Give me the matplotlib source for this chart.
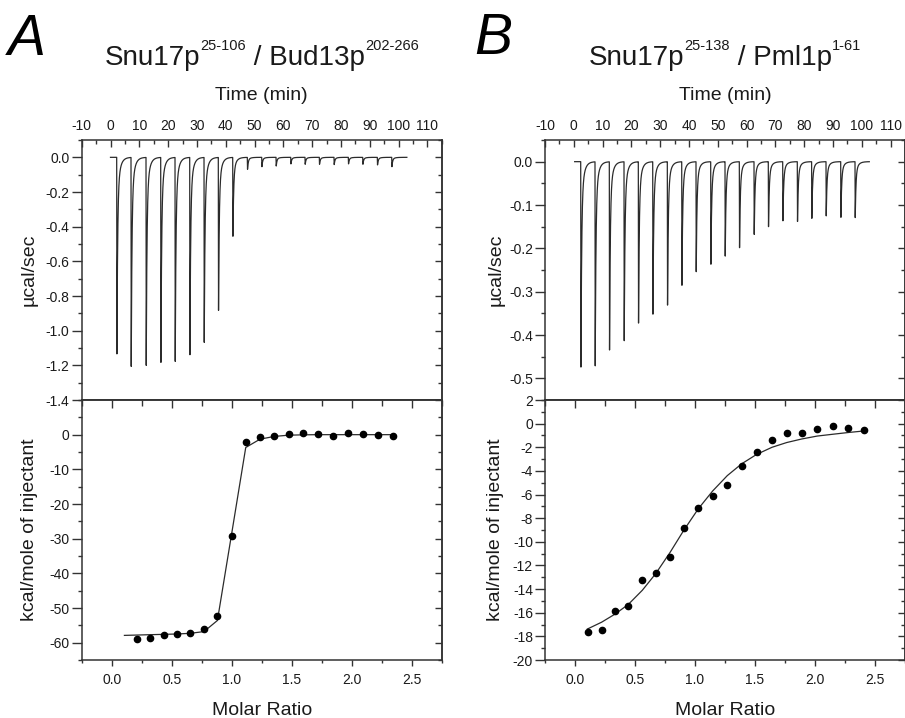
import matplotlib
matplotlib.use('Agg')
import matplotlib.pyplot as plt
import numpy as np
from matplotlib.ticker import MultipleLocator, FixedLocator, FuncFormatter

plt.rcParams['font.family'] = ['Liberation Sans', 'DejaVu Sans']
plt.rcParams['axes.unicode_minus'] = False

# ---------------- data ----------------
# Panel A: Snu17p(25-106) / Bud13p(202-266)
a_inj_time = [2.15, 7.12, 12.33, 17.43, 22.40, 27.50, 32.47, 37.43, 42.43, 47.50,
              52.50, 57.47, 62.57, 67.53, 72.50, 77.60, 82.57, 87.57, 92.64, 97.64]
a_peak_depth = [-1.14, -1.208, -1.20, -1.185, -1.18, -1.144, -1.073, -0.887, -0.458, -0.069,
                -0.054, -0.050, -0.038, -0.040, -0.040, -0.042, -0.038, -0.040, -0.044, -0.054]
a_ratio = [0.214, 0.319, 0.433, 0.542, 0.656, 0.769, 0.881, 1.000, 1.117, 1.236,
           1.356, 1.475, 1.597, 1.717, 1.842, 1.967, 2.092, 2.222, 2.347]
a_heat = [-59.0, -58.6, -57.9, -57.5, -57.3, -56.2, -52.2, -29.1, -2.0, -0.8,
          -0.3, 0.1, 0.4, 0.2, -0.5, 0.5, 0.1, 0.0, -0.5]
a_fit_ratio = [0.106, 0.214, 0.319, 0.433, 0.542, 0.656, 0.769, 0.881, 1.000, 1.117, 1.236,
               1.356, 1.475, 1.597, 1.717, 1.842, 1.967, 2.092, 2.222, 2.347]
a_fit_heat = [-57.9, -57.8, -57.7, -57.6, -57.5, -57.3, -56.8, -53.6, -28.5, -3.7, -1.3,
              -0.5, -0.15, -0.05, 0.0, 0.0, 0.0, 0.0, 0.0, 0.0]

# Panel B: Snu17p(25-138) / Pml1p(1-61)
b_inj_time = [2.40, 7.36, 12.33, 17.43, 22.40, 27.40, 32.47, 37.47, 42.43, 47.53,
              52.50, 57.47, 62.57, 67.53, 72.53, 77.60, 82.57, 87.57, 92.67, 97.64]
b_peak_depth = [-0.478, -0.472, -0.438, -0.414, -0.375, -0.354, -0.333, -0.287, -0.254, -0.238,
                -0.218, -0.200, -0.168, -0.151, -0.137, -0.139, -0.131, -0.125, -0.129, -0.129]
b_ratio = [0.111, 0.222, 0.336, 0.444, 0.561, 0.672, 0.792, 0.908, 1.028, 1.147,
           1.269, 1.389, 1.514, 1.642, 1.764, 1.889, 2.019, 2.147, 2.278, 2.408]
b_heat = [-17.66, -17.46, -15.83, -15.41, -13.27, -12.68, -11.30, -8.82, -7.10, -6.11,
          -5.18, -3.61, -2.42, -1.41, -0.79, -0.79, -0.48, -0.20, -0.37, -0.51]
b_fit_ratio = [0.103, 0.222, 0.336, 0.444, 0.561, 0.672, 0.792, 0.908, 1.028, 1.147,
               1.269, 1.389, 1.514, 1.642, 1.764, 1.889, 2.019, 2.147, 2.278, 2.408]
b_fit_heat = [-17.38, -16.8, -16.1, -15.3, -14.1, -12.7, -10.9, -9.0, -7.2, -5.7,
              -4.4, -3.4, -2.6, -2.0, -1.6, -1.3, -1.05, -0.9, -0.75, -0.62]

run_start = [0.0, 0.3]
run_end = [102.9, 102.6]

titles = [[("Snu17p", 20, 0), ("25-106", 10.5, 15), (" / Bud13p", 20, 0), ("202-266", 10.5, 15)],
          [("Snu17p", 20, 0), ("25-138", 10.5, 15), (" / Pml1p", 20, 0), ("1-61", 10.5, 15)]]
panel_letters = ["A", "B"]

# ---------------- style ----------------
W, H = 905, 718
TXT = '#1a1a1a'
AXC = '#333333'
LINE = '#2b2b2b'

fig = plt.figure(figsize=(W / 100, H / 100), dpi=100)


def rect(x0, y0, x1, y1):
    return [x0 / W, 1 - y1 / H, (x1 - x0) / W, (y1 - y0) / H]


def thermogram(times, depths, t0, t1):
    t = np.linspace(t0, t1, 30000)
    y = np.zeros_like(t)
    rise = 0.08
    for ti, d in zip(times, depths):
        s = t - ti
        m1 = (s >= 0) & (s < rise)
        y[m1] += d * s[m1] / rise
        m2 = s >= rise
        s2 = s[m2] - rise
        y[m2] += d * (0.8 * np.exp(-s2 / 0.25) + 0.2 * np.exp(-s2 / 0.9))
    return t, y


def fmt1(v, pos):
    return "0.0" if abs(v) < 1e-9 else f"{v:.1f}"


def fmt0(v, pos):
    return "0" if abs(v) < 1e-9 else f"{v:.0f}"


def style_axes(ax):
    for sp in ax.spines.values():
        sp.set_color(AXC)
        sp.set_linewidth(1.1)


def add_right_ticks(ax, major, minor):
    sec = ax.secondary_yaxis('right')
    sec.yaxis.set_major_locator(MultipleLocator(major))
    sec.yaxis.set_minor_locator(MultipleLocator(minor))
    sec.tick_params(axis='y', which='major', direction='in', length=5, width=1.0,
                    color=AXC, labelright=False)
    sec.tick_params(axis='y', which='minor', direction='in', length=3, width=1.0, color=AXC)
    sec.spines['right'].set_color(AXC)
    sec.spines['right'].set_linewidth(1.1)
    return sec


panels = [
    dict(x0=81.7, x1=441.7, times=a_inj_time, depths=a_peak_depth,
         ratio=a_ratio, heat=a_heat, fr=a_fit_ratio, fh=a_fit_heat,
         uy=(-1.4, 0.1), umaj=0.2, umin=0.1,
         ly=(-65, 10), lmajticks=list(range(-60, 1, 10)), lmin=5, lfmt=fmt0,
         ylab_x=29),
    dict(x0=545, x1=905, times=b_inj_time, depths=b_peak_depth,
         ratio=b_ratio, heat=b_heat, fr=b_fit_ratio, fh=b_fit_heat,
         uy=(-0.55, 0.05), umaj=0.1, umin=0.05,
         ly=(-20, 2), lmajticks=list(range(-20, 3, 2)), lmin=1, lfmt=fmt0,
         ylab_x=496),
]

for i, p in enumerate(panels):
    # ---------- upper: thermogram ----------
    axu = fig.add_axes(rect(p['x0'], 140, p['x1'], 400))
    t, y = thermogram(p['times'], p['depths'], run_start[i], run_end[i])
    axu.plot(t, y, color=LINE, lw=0.9)
    axu.set_xlim(-10, 115)
    axu.set_ylim(*p['uy'])
    style_axes(axu)
    axu.xaxis.set_major_locator(MultipleLocator(10))
    axu.xaxis.set_minor_locator(MultipleLocator(5))
    axu.xaxis.set_major_formatter(FuncFormatter(fmt0))
    axu.tick_params(axis='x', which='both', top=True, bottom=False, labeltop=True,
                    labelbottom=False, direction='in', color=AXC, width=1.0)
    axu.tick_params(axis='x', which='major', length=5, pad=5, labelsize=10, labelcolor=TXT)
    axu.tick_params(axis='x', which='minor', length=3)
    axu.yaxis.set_major_locator(MultipleLocator(p['umaj']))
    axu.yaxis.set_minor_locator(MultipleLocator(p['umin']))
    axu.yaxis.set_major_formatter(FuncFormatter(fmt1))
    axu.tick_params(axis='y', which='both', direction='out', left=True, right=False,
                    color=AXC, width=1.0)
    axu.tick_params(axis='y', which='major', length=7.2, pad=1.5, labelsize=10, labelcolor=TXT)
    axu.tick_params(axis='y', which='minor', length=2.9)
    add_right_ticks(axu, p['umaj'], p['umin'])

    # ---------- lower: binding isotherm ----------
    axl = fig.add_axes(rect(p['x0'], 400, p['x1'], 660))
    axl.plot(p['fr'], p['fh'], color=LINE, lw=0.9, zorder=2)
    axl.plot(p['ratio'], p['heat'], 'o', color='black', ms=4.5, zorder=3)
    axl.set_xlim(-0.25, 2.75)
    axl.set_ylim(*p['ly'])
    style_axes(axl)
    axl.xaxis.set_major_locator(MultipleLocator(0.5))
    axl.xaxis.set_minor_locator(MultipleLocator(0.25))
    axl.xaxis.set_major_formatter(FuncFormatter(fmt1))
    axl.tick_params(axis='x', which='both', direction='out', bottom=True, top=False,
                    color=AXC, width=1.0)
    axl.tick_params(axis='x', which='major', length=4.5, pad=4.5, labelsize=10, labelcolor=TXT)
    axl.tick_params(axis='x', which='minor', length=2.5)
    secx = axl.secondary_xaxis('top')
    secx.xaxis.set_major_locator(MultipleLocator(0.5))
    secx.xaxis.set_minor_locator(MultipleLocator(0.25))
    secx.tick_params(axis='x', which='major', direction='in', length=5.8, width=1.0,
                     color=AXC, labeltop=False)
    secx.tick_params(axis='x', which='minor', direction='in', length=4, width=1.0, color=AXC)
    secx.spines['top'].set_color(AXC)
    secx.spines['top'].set_linewidth(1.1)
    axl.yaxis.set_major_locator(FixedLocator(p['lmajticks']))
    axl.yaxis.set_minor_locator(MultipleLocator(p['lmin']))
    axl.yaxis.set_major_formatter(FuncFormatter(p['lfmt']))
    axl.tick_params(axis='y', which='both', direction='out', left=True, right=False,
                    color=AXC, width=1.0)
    axl.tick_params(axis='y', which='major', length=7.2, pad=1.5, labelsize=10, labelcolor=TXT)
    axl.tick_params(axis='y', which='minor', length=2.9)
    add_right_ticks(axl, p['lmajticks'][1] - p['lmajticks'][0], p['lmin'])

    xc = (p['x0'] + p['x1']) / 2
    # axis labels
    fig.text(xc / W, 1 - 100 / H, "Time (min)", ha='center', va='baseline',
             fontsize=14, color=TXT)
    fig.text(xc / W, 1 - 715 / H, "Molar Ratio", ha='center', va='baseline',
             fontsize=14, color=TXT)
    fig.text(p['ylab_x'] / W, 1 - 270 / H, "µcal/sec", rotation=90, ha='center',
             va='center', fontsize=14, color=TXT)
    fig.text(p['ylab_x'] / W, 1 - 530 / H, "kcal/mole of injectant", rotation=90,
             ha='center', va='center', fontsize=14, color=TXT)

# panel letters
fig.text(8 / W, 1 - 55 / H, panel_letters[0], fontsize=41, style='italic',
         ha='left', va='baseline', color='black')
fig.text(474 / W, 1 - 54 / H, panel_letters[1], fontsize=41, style='italic',
         ha='left', va='baseline', color='black')

# rich titles with superscripts
renderer = fig.canvas.get_renderer()
for i, p in enumerate(panels):
    xc = (p['x0'] + p['x1']) / 2
    objs = []
    for s, size, rise in titles[i]:
        tx = fig.text(0, 0, s, fontsize=size, ha='left', va='baseline', color=TXT)
        objs.append((tx, rise))
    widths = [tx.get_window_extent(renderer).width for tx, _ in objs]
    x = xc - sum(widths) / 2
    for (tx, rise), w in zip(objs, widths):
        tx.set_position((x / W, 1 - (65 - rise) / H))
        x += w

fig.savefig('out.png', dpi=100)
